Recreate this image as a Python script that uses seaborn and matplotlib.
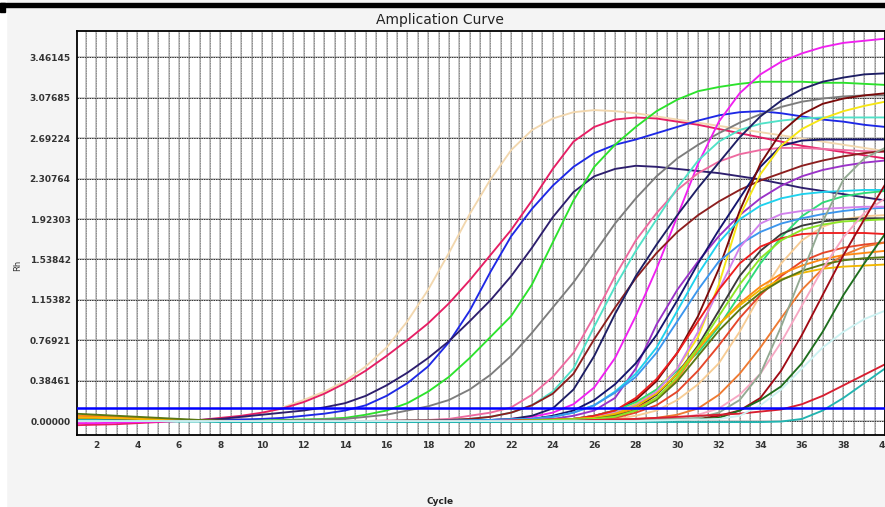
import numpy as np
import pandas as pd
import matplotlib
matplotlib.use("Agg")
import matplotlib.pyplot as plt
import seaborn as sns
from matplotlib.patches import Rectangle

sns.set_theme(style="white")
plt.rcParams["font.family"] = ["DejaVu Sans"]

# Rn per cycle (1..40)
cycles = list(range(1, 41))

wheat = [0.04, 0.035, 0.03, 0.02, 0.01, 0.005, 0.0, 0.01, 0.03, 0.07,
         0.13, 0.2, 0.28, 0.38, 0.52, 0.7, 0.95, 1.25, 1.6, 1.97,
         2.3, 2.58, 2.77, 2.88, 2.94, 2.96, 2.95, 2.93, 2.9, 2.87,
         2.84, 2.81, 2.78, 2.75, 2.72, 2.69, 2.66, 2.63, 2.6, 2.57]
crimson = [-0.04, -0.035, -0.03, -0.02, -0.01, 0.0, 0.01, 0.03, 0.05, 0.08,
           0.12, 0.18, 0.26, 0.36, 0.48, 0.62, 0.77, 0.93, 1.12, 1.34,
           1.58, 1.82, 2.1, 2.4, 2.66, 2.8, 2.87, 2.89, 2.88, 2.85,
           2.82, 2.78, 2.74, 2.7, 2.66, 2.62, 2.59, 2.56, 2.53, 2.5]
blue = [0.02, 0.02, 0.015, 0.01, 0.01, 0.005, 0.005, 0.01, 0.015, 0.02,
        0.03, 0.05, 0.07, 0.1, 0.15, 0.24, 0.36, 0.52, 0.75, 1.05,
        1.42, 1.76, 2.02, 2.24, 2.42, 2.55, 2.63, 2.68, 2.74, 2.8,
        2.86, 2.91, 2.94, 2.95, 2.93, 2.9, 2.87, 2.85, 2.82, 2.8]
navy = [0.03, 0.03, 0.025, 0.02, 0.015, 0.01, 0.01, 0.02, 0.04, 0.06,
        0.08, 0.1, 0.13, 0.17, 0.24, 0.34, 0.46, 0.6, 0.76, 0.95,
        1.15, 1.38, 1.65, 1.94, 2.18, 2.33, 2.4, 2.43, 2.42, 2.4,
        2.38, 2.36, 2.33, 2.3, 2.26, 2.22, 2.19, 2.16, 2.13, 2.1]
green = [0.03, 0.025, 0.02, 0.01, 0.005, 0.0, 0.0, 0.0, 0.0, 0.005,
         0.01, 0.015, 0.02, 0.03, 0.06, 0.1, 0.17, 0.28, 0.42, 0.6,
         0.8, 1.0, 1.3, 1.7, 2.1, 2.42, 2.63, 2.8, 2.95, 3.06,
         3.14, 3.18, 3.21, 3.23, 3.23, 3.23, 3.22, 3.22, 3.21, 3.2]
gray = [0.03, 0.025, 0.02, 0.015, 0.01, 0.005, 0.0, 0.0, 0.0, 0.0,
        0.005, 0.01, 0.015, 0.02, 0.04, 0.06, 0.1, 0.14, 0.2, 0.3,
        0.44, 0.62, 0.84, 1.08, 1.32, 1.6, 1.88, 2.12, 2.33, 2.5,
        2.63, 2.74, 2.84, 2.92, 2.99, 3.04, 3.07, 3.09, 3.1, 3.1]
magenta = [-0.02, -0.02, -0.015, -0.01, -0.005, 0.0, 0.0, 0.0, 0.0, 0.0,
           0.0, 0.0, 0.0, 0.0, 0.0, 0.0, 0.0, 0.0, 0.0, 0.005,
           0.01, 0.02, 0.04, 0.08, 0.16, 0.32, 0.6, 1.0, 1.45, 1.95,
           2.45, 2.85, 3.12, 3.3, 3.42, 3.5, 3.56, 3.6, 3.62, 3.64]
hotpink = [0.01, 0.01, 0.01, 0.005, 0.005, 0.0, 0.0, 0.0, 0.0, 0.0,
           0.0, 0.0, 0.0, 0.0, 0.0, 0.005, 0.005, 0.01, 0.02, 0.05,
           0.08, 0.13, 0.25, 0.42, 0.65, 1.0, 1.38, 1.72, 1.98, 2.2,
           2.36, 2.47, 2.54, 2.58, 2.6, 2.6, 2.59, 2.58, 2.57, 2.56]
turquoise = [0.0, 0.0, 0.0, 0.0, 0.0, 0.0, 0.0, 0.0, 0.0, 0.0,
             0.0, 0.0, 0.0, 0.0, 0.0, 0.0, 0.005, 0.005, 0.01, 0.02,
             0.04, 0.08, 0.15, 0.28, 0.5, 0.9, 1.28, 1.62, 1.92, 2.22,
             2.48, 2.66, 2.77, 2.83, 2.86, 2.88, 2.89, 2.89, 2.89, 2.89]
brown = [0.05, 0.045, 0.04, 0.03, 0.02, 0.01, 0.005, 0.0, 0.0, 0.0,
         0.0, 0.0, 0.0, 0.0, 0.0, 0.0, 0.005, 0.005, 0.01, 0.02,
         0.04, 0.08, 0.15, 0.26, 0.45, 0.78, 1.08, 1.36, 1.6, 1.8,
         1.96, 2.09, 2.2, 2.29, 2.36, 2.43, 2.48, 2.52, 2.55, 2.57]
purple = [0.02, 0.02, 0.015, 0.01, 0.005, 0.0, 0.0, 0.0, 0.0, 0.0,
          0.0, 0.0, 0.0, 0.0, 0.0, 0.0, 0.0, 0.0, 0.0, 0.0,
          0.005, 0.01, 0.015, 0.02, 0.05, 0.1, 0.22, 0.5, 0.92, 1.25,
          1.52, 1.76, 1.96, 2.12, 2.24, 2.33, 2.39, 2.43, 2.46, 2.48]
navy2 = [0.01, 0.01, 0.01, 0.005, 0.005, 0.0, 0.0, 0.0, 0.0, 0.0,
         0.0, 0.0, 0.0, 0.0, 0.0, 0.0, 0.0, 0.0, 0.0, 0.005,
         0.01, 0.02, 0.05, 0.12, 0.3, 0.62, 1.02, 1.38, 1.68, 1.96,
         2.22, 2.46, 2.7, 2.9, 3.05, 3.16, 3.23, 3.27, 3.3, 3.31]
navy3 = [0.02, 0.02, 0.015, 0.01, 0.005, 0.0, 0.0, 0.0, 0.0, 0.0,
         0.0, 0.0, 0.0, 0.0, 0.0, 0.0, 0.0, 0.0, 0.0, 0.0,
         0.005, 0.01, 0.02, 0.05, 0.1, 0.2, 0.35, 0.55, 0.82, 1.15,
         1.5, 1.82, 2.12, 2.42, 2.62, 2.67, 2.68, 2.68, 2.68, 2.68]
maroon = [0.03, 0.03, 0.025, 0.02, 0.01, 0.005, 0.0, 0.0, 0.0, 0.0,
          0.0, 0.0, 0.0, 0.0, 0.0, 0.0, 0.0, 0.0, 0.0, 0.0,
          0.0, 0.005, 0.01, 0.015, 0.02, 0.05, 0.1, 0.2, 0.38, 0.65,
          1.0, 1.45, 2.0, 2.45, 2.75, 2.92, 3.02, 3.07, 3.1, 3.12]
yellow = [0.05, 0.045, 0.04, 0.03, 0.02, 0.01, 0.005, 0.0, 0.0, 0.0,
          0.0, 0.0, 0.0, 0.0, 0.0, 0.0, 0.0, 0.0, 0.0, 0.0,
          0.0, 0.0, 0.005, 0.01, 0.02, 0.03, 0.08, 0.16, 0.3, 0.5,
          0.8, 1.3, 1.95, 2.35, 2.62, 2.78, 2.88, 2.95, 3.0, 3.04]
cyan = [0.01, 0.01, 0.01, 0.005, 0.0, 0.0, 0.0, 0.0, 0.0, 0.0,
        0.0, 0.0, 0.0, 0.0, 0.0, 0.0, 0.0, 0.0, 0.0, 0.005,
        0.01, 0.015, 0.02, 0.04, 0.08, 0.15, 0.28, 0.45, 0.7, 1.05,
        1.4, 1.7, 1.92, 2.05, 2.12, 2.16, 2.18, 2.19, 2.2, 2.2]
springgreen = [0.01, 0.01, 0.005, 0.0, 0.0, 0.0, 0.0, 0.0, 0.0, 0.0,
               0.0, 0.0, 0.0, 0.0, 0.0, 0.0, 0.0, 0.0, 0.0, 0.0,
               0.0, 0.005, 0.01, 0.015, 0.02, 0.05, 0.1, 0.18, 0.3, 0.48,
               0.65, 0.9, 1.2, 1.5, 1.75, 1.95, 2.08, 2.14, 2.17, 2.19]
dodger = [0.0, 0.0, 0.0, 0.0, 0.0, 0.0, 0.0, 0.0, 0.0, 0.0,
          0.0, 0.0, 0.0, 0.0, 0.0, 0.0, 0.0, 0.0, 0.005, 0.005,
          0.01, 0.015, 0.02, 0.04, 0.08, 0.15, 0.27, 0.42, 0.65, 0.95,
          1.25, 1.52, 1.68, 1.8, 1.88, 1.93, 1.97, 2.0, 2.02, 2.03]
violet = [0.0, 0.0, 0.0, 0.0, 0.0, 0.0, 0.0, 0.0, 0.0, 0.0,
          0.0, 0.0, 0.0, 0.0, 0.0, 0.0, 0.0, 0.0, 0.0, 0.0,
          0.0, 0.005, 0.01, 0.015, 0.02, 0.04, 0.08, 0.15, 0.28, 0.5,
          0.85, 1.25, 1.65, 1.88, 1.97, 2.0, 2.02, 2.03, 2.04, 2.04]
peach = [0.04, 0.035, 0.03, 0.02, 0.01, 0.005, 0.0, 0.0, 0.0, 0.0,
         0.0, 0.0, 0.0, 0.0, 0.0, 0.0, 0.0, 0.0, 0.0, 0.0,
         0.0, 0.0, 0.0, 0.005, 0.01, 0.015, 0.02, 0.05, 0.1, 0.2,
         0.35, 0.55, 0.85, 1.2, 1.5, 1.72, 1.85, 1.92, 1.95, 1.96]
slate = [0.02, 0.02, 0.015, 0.01, 0.005, 0.0, 0.0, 0.0, 0.0, 0.0,
         0.0, 0.0, 0.0, 0.0, 0.0, 0.0, 0.0, 0.0, 0.0, 0.0,
         0.0, 0.0, 0.005, 0.01, 0.015, 0.02, 0.05, 0.12, 0.25, 0.45,
         0.72, 1.05, 1.38, 1.62, 1.78, 1.86, 1.9, 1.92, 1.93, 1.93]
red1 = [0.0, 0.0, 0.0, 0.0, 0.0, 0.0, 0.0, 0.0, 0.0, 0.0,
        0.0, 0.0, 0.0, 0.0, 0.0, 0.0, 0.0, 0.0, 0.0, 0.0,
        0.0, 0.005, 0.01, 0.015, 0.02, 0.05, 0.1, 0.22, 0.4, 0.65,
        0.95, 1.25, 1.5, 1.66, 1.74, 1.78, 1.79, 1.79, 1.79, 1.78]
red2 = [0.0, 0.0, 0.0, 0.0, 0.0, 0.0, 0.0, 0.0, 0.0, 0.0,
        0.0, 0.0, 0.0, 0.0, 0.0, 0.0, 0.0, 0.0, 0.0, 0.0,
        0.0, 0.0, 0.005, 0.01, 0.015, 0.02, 0.03, 0.08, 0.15, 0.28,
        0.48, 0.72, 0.98, 1.2, 1.38, 1.52, 1.6, 1.65, 1.68, 1.7]
orange1 = [0.05, 0.045, 0.04, 0.03, 0.02, 0.01, 0.005, 0.0, 0.0, 0.0,
           0.0, 0.0, 0.0, 0.0, 0.0, 0.0, 0.0, 0.0, 0.0, 0.0,
           0.0, 0.0, 0.005, 0.01, 0.02, 0.03, 0.06, 0.12, 0.22, 0.4,
           0.68, 0.92, 1.12, 1.28, 1.4, 1.48, 1.54, 1.58, 1.6, 1.62]
orange2 = [0.0, 0.0, 0.0, 0.0, 0.0, 0.0, 0.0, 0.0, 0.0, 0.0,
           0.0, 0.0, 0.0, 0.0, 0.0, 0.0, 0.0, 0.0, 0.0, 0.0,
           0.0, 0.0, 0.0, 0.0, 0.005, 0.01, 0.015, 0.02, 0.03, 0.06,
           0.12, 0.25, 0.45, 0.7, 0.98, 1.25, 1.45, 1.58, 1.66, 1.7]
gold = [0.03, 0.03, 0.025, 0.02, 0.01, 0.005, 0.0, 0.0, 0.0, 0.0,
        0.0, 0.0, 0.0, 0.0, 0.0, 0.0, 0.0, 0.0, 0.0, 0.0,
        0.0, 0.0, 0.005, 0.01, 0.02, 0.03, 0.07, 0.14, 0.26, 0.45,
        0.7, 0.92, 1.1, 1.25, 1.35, 1.41, 1.45, 1.47, 1.48, 1.49]
olive = [0.07, 0.06, 0.05, 0.04, 0.03, 0.02, 0.01, 0.005, 0.0, 0.0,
         0.0, 0.0, 0.0, 0.0, 0.0, 0.0, 0.0, 0.0, 0.0, 0.0,
         0.0, 0.0, 0.005, 0.01, 0.015, 0.02, 0.05, 0.1, 0.2, 0.38,
         0.62, 0.86, 1.06, 1.22, 1.34, 1.43, 1.49, 1.53, 1.55, 1.56]
lime = [0.0, 0.0, 0.0, 0.0, 0.0, 0.0, 0.0, 0.0, 0.0, 0.0,
        0.0, 0.0, 0.0, 0.0, 0.0, 0.0, 0.0, 0.0, 0.0, 0.0,
        0.0, 0.0, 0.005, 0.01, 0.015, 0.02, 0.04, 0.1, 0.22, 0.42,
        0.7, 1.0, 1.3, 1.55, 1.72, 1.82, 1.87, 1.9, 1.91, 1.92]
lightpink = [0.0, 0.0, 0.0, 0.0, 0.0, 0.0, 0.0, 0.0, 0.0, 0.0,
             0.0, 0.0, 0.0, 0.0, 0.0, 0.0, 0.0, 0.0, 0.0, 0.0,
             0.0, 0.0, 0.0, 0.0, 0.0, 0.005, 0.01, 0.015, 0.02, 0.03,
             0.06, 0.12, 0.25, 0.45, 0.75, 1.1, 1.45, 1.75, 1.98, 2.12]
darkred = [0.0, 0.0, 0.0, 0.0, 0.0, 0.0, 0.0, 0.0, 0.0, 0.0,
           0.0, 0.0, 0.0, 0.0, 0.0, 0.0, 0.0, 0.0, 0.0, 0.0,
           0.0, 0.0, 0.0, 0.0, 0.0, 0.005, 0.01, 0.01, 0.015, 0.015,
           0.02, 0.05, 0.1, 0.22, 0.48, 0.82, 1.2, 1.58, 1.92, 2.25]
darkgreen = [0.0, 0.0, 0.0, 0.0, 0.0, 0.0, 0.0, 0.0, 0.0, 0.0,
             0.0, 0.0, 0.0, 0.0, 0.0, 0.0, 0.0, 0.0, 0.0, 0.0,
             0.0, 0.0, 0.0, 0.0, 0.0, 0.005, 0.005, 0.01, 0.01, 0.015,
             0.02, 0.03, 0.1, 0.2, 0.33, 0.55, 0.85, 1.2, 1.5, 1.78]
seagray = [0.0, 0.0, 0.0, 0.0, 0.0, 0.0, 0.0, 0.0, 0.0, 0.0,
           0.0, 0.0, 0.0, 0.0, 0.0, 0.0, 0.0, 0.0, 0.0, 0.0,
           0.0, 0.0, 0.0, 0.0, 0.005, 0.005, 0.01, 0.01, 0.015, 0.02,
           0.03, 0.08, 0.2, 0.45, 0.9, 1.4, 1.9, 2.3, 2.5, 2.6]
redlow = [0.0, 0.0, 0.0, 0.0, 0.0, 0.0, 0.0, 0.0, 0.0, 0.0,
          0.0, 0.0, 0.0, 0.0, 0.0, 0.0, 0.0, 0.0, 0.0, 0.0,
          0.0, 0.0, 0.0, 0.0, 0.0, 0.01, 0.015, 0.02, 0.03, 0.04,
          0.05, 0.06, 0.07, 0.09, 0.11, 0.16, 0.24, 0.34, 0.44, 0.54]
teallow = [0.01, 0.01, 0.005, 0.0, 0.0, -0.005, -0.005, -0.01, -0.01, -0.01,
           -0.01, -0.01, -0.01, -0.01, -0.01, -0.01, -0.01, -0.01, -0.01, -0.01,
           -0.01, -0.01, -0.01, -0.01, -0.01, -0.01, -0.01, -0.01, -0.01, -0.01,
           -0.01, -0.01, -0.01, -0.01, -0.005, 0.02, 0.1, 0.22, 0.36, 0.5]
palecyan = [0.0, 0.0, 0.0, 0.0, 0.0, 0.0, 0.0, 0.0, 0.0, 0.0,
            0.0, 0.0, 0.0, 0.0, 0.0, 0.0, 0.0, 0.0, 0.0, 0.0,
            0.0, 0.0, 0.0, 0.0, 0.0, 0.0, 0.0, 0.0, 0.005, 0.01,
            0.015, 0.02, 0.05, 0.15, 0.3, 0.5, 0.7, 0.85, 0.97, 1.05]

threshold = 0.124
ytick_vals = [0.0, 0.38461, 0.76921, 1.15382, 1.53842, 1.92303,
              2.30764, 2.69224, 3.07685, 3.46145]
ytick_labels = ["0.00000", "0.38461", "0.76921", "1.15382", "1.53842",
                "1.92303", "2.30764", "2.69224", "3.07685", "3.46145"]
xtick_vals = list(range(2, 41, 2))

wells = [
    ("wheat", wheat, "#F2D7AE"), ("crimson", crimson, "#E61E64"),
    ("blue", blue, "#1E28E6"), ("navy", navy, "#2D1E6E"),
    ("green", green, "#2CE22C"), ("gray", gray, "#7D7D7D"),
    ("magenta", magenta, "#F020F0"), ("hotpink", hotpink, "#EE6AA0"),
    ("turquoise", turquoise, "#50E2C8"), ("brown", brown, "#8C1E1E"),
    ("purple", purple, "#9A32C8"), ("navy2", navy2, "#1E1E64"),
    ("navy3", navy3, "#14146E"), ("maroon", maroon, "#7A0A0A"),
    ("yellow", yellow, "#F6E614"), ("cyan", cyan, "#1ED2EE"),
    ("springgreen", springgreen, "#2EDC78"), ("dodger", dodger, "#3C96EE"),
    ("violet", violet, "#D282EC"), ("peach", peach, "#F7CC94"),
    ("slate", slate, "#3A3A3A"), ("red1", red1, "#EE1E1E"),
    ("red2", red2, "#E6462A"), ("orange1", orange1, "#FF8A14"),
    ("orange2", orange2, "#EE7A32"), ("gold", gold, "#F2B800"),
    ("olive", olive, "#5A7814"), ("lime", lime, "#8CE628"),
    ("lightpink", lightpink, "#F7A8C4"), ("darkred", darkred, "#A00A14"),
    ("darkgreen", darkgreen, "#1E6E1E"), ("seagray", seagray, "#93AA93"),
    ("redlow", redlow, "#D81E30"), ("teallow", teallow, "#22B4B0"),
    ("palecyan", palecyan, "#CCF2F2"),
]

names = [w[0] for w in wells]
palette = {w[0]: w[2] for w in wells}
df = pd.DataFrame({
    "cycle": np.tile(cycles, len(wells)),
    "rh": np.concatenate([w[1] for w in wells]),
    "well": np.repeat(names, len(cycles)),
})

W, H = 885, 507
fig = plt.figure(figsize=(W / 100, H / 100), dpi=100, facecolor="#f4f4f4")
ax = fig.add_axes([77 / W, 1 - 435 / H, 1 - 77 / W, (435 - 31) / H])
ax.set_facecolor("white")

# background grid: vertical every half cycle, horizontal at the y ticks
for xv in np.arange(1.5, 40.01, 0.5):
    ax.axvline(xv, color="#c8c8c8", lw=1.4, zorder=0)
    ax.axvline(xv, color="#707070", lw=0.6, ls=(0, (1, 1)), zorder=0.5)
for yv in ytick_vals:
    ax.axhline(yv, color="#bdbdbd", lw=1.1, zorder=0)
    ax.axhline(yv, color="#333333", lw=0.7, ls=(0, (1.5, 1)), zorder=0.5)

sns.lineplot(data=df, x="cycle", y="rh", hue="well", hue_order=names,
             palette=palette, legend=False, linewidth=1.35, estimator=None,
             errorbar=None, ax=ax, zorder=2)
ax.axhline(threshold, color="#0000FF", lw=1.8, zorder=5)

ax.set_xlim(1.09, 40.0)
ax.set_ylim(-0.133, 3.713)
ax.set_xticks(xtick_vals)
ax.set_xticklabels([str(v) for v in xtick_vals])
ax.set_yticks(ytick_vals)
ax.set_yticklabels(ytick_labels)
ax.tick_params(axis="both", labelsize=6.5, colors="#333333", length=2.5,
               width=0.8, pad=2, direction="out")
for lbl in ax.get_xticklabels() + ax.get_yticklabels():
    lbl.set_fontweight("bold")
ax.tick_params(axis="x", pad=1.5)
ax.set_xlabel("")
ax.set_ylabel("")
for sp in ax.spines.values():
    sp.set_color("black")
    sp.set_linewidth(1.3)

fig.text(0.497, 1 - 20 / H, "Amplication Curve", ha="center", va="center",
         fontsize=10, color="#222222")
fig.text(0.497, 1 - 502 / H, "Cycle", ha="center", va="center",
         fontsize=6.5, fontweight="bold", color="#222222")
fig.text(18 / W, 1 - 265 / H, "Rh", ha="center", va="center", rotation=90,
         fontsize=6, color="#333333")

# frame decorations of the screenshot
fig.patches.append(Rectangle((0, 0), 6 / W, 1, transform=fig.transFigure,
                             color="white", zorder=-1))
fig.patches.append(Rectangle((0, 1 - 7 / H), 1, 4 / H, transform=fig.transFigure,
                             color="black", zorder=3))
fig.patches.append(Rectangle((0, 1 - 12 / H), 5 / W, 9 / H,
                             transform=fig.transFigure, color="black", zorder=3))

fig.savefig("out.png", dpi=100, facecolor=fig.get_facecolor())
